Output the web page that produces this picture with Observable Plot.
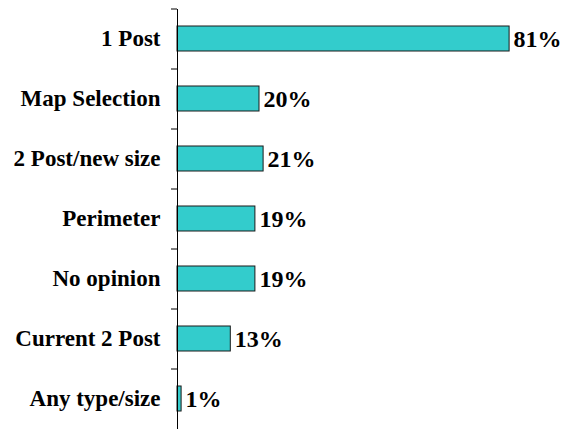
<!DOCTYPE html>
<html>
<head>
<meta charset="utf-8">
<script src="https://cdn.jsdelivr.net/npm/d3@7"></script>
<script src="https://cdn.jsdelivr.net/npm/@observablehq/plot@0.6"></script>
<style>
html, body { margin: 0; padding: 0; background: #fff; }
#chart svg text { font-family: "Liberation Serif", "Times New Roman", serif !important; font-weight: bold !important; }
</style>
</head>
<body>
<div id="chart"></div>
<script>
const categories = ["1 Post", "Map Selection", "2 Post/new size", "Perimeter", "No opinion", "Current 2 Post", "Any type/size"];
const values = [81, 20, 21, 19, 19, 13, 1];

const data = categories.map((c, i) => ({category: c, value: values[i]}));

const step = (430 - 9 - 1) / categories.length;
const font = "Liberation Serif";

const plot = Plot.plot({
  width: 567,
  height: 430,
  marginLeft: 177,
  marginRight: 21,
  marginTop: 9,
  marginBottom: 1,
  style: {fontSize: "23px", color: "#000", background: "#fff"},
  x: {domain: [0, 90], axis: null},
  y: {domain: categories, paddingInner: 0.58, paddingOuter: 0.29, axis: null},
  marks: [
    Plot.barX(data, {x: "value", y: "category", fill: "#33CCCC", stroke: "#1a1a1a", strokeWidth: 1}),
    Plot.axisY({tickSize: 6, dy: -step / 2, tickFormat: () => "", stroke: "#000", label: null}),
    Plot.axisY({tickSize: 0, tickPadding: 17, fill: "#000", fontSize: 23, fontWeight: "bold", fontFamily: font, label: null}),
    Plot.ruleX([0], {stroke: "#000"}),
    Plot.text(data, {x: "value", y: "category", text: d => `${d.value}%`, dx: 4, textAnchor: "start", fill: "#000", fontSize: 24, fontWeight: "bold", fontFamily: font})
  ]
});
d3.select(plot).selectAll("text").style("font-family", "'Liberation Serif', serif");
document.getElementById("chart").appendChild(plot);
</script>
</body>
</html>
